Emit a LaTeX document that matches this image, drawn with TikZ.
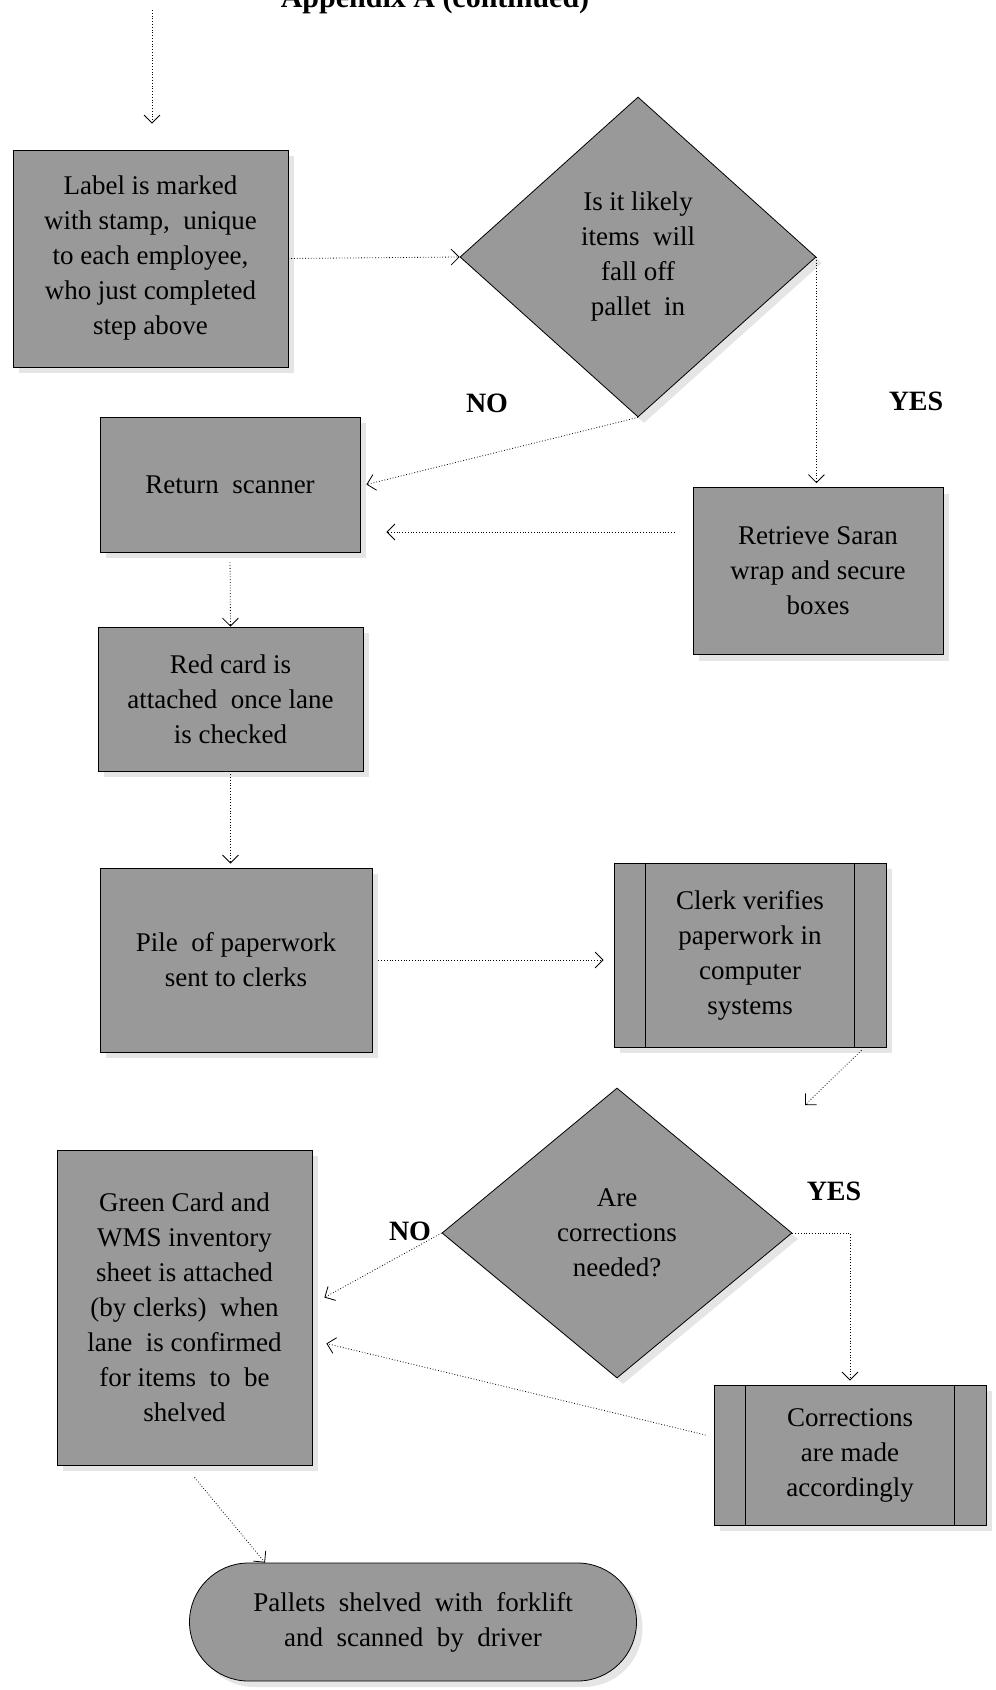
\documentclass[tikz,border=0pt]{standalone}
\usepackage{fontspec}
\setmainfont{Liberation Serif}
\usetikzlibrary{shapes.geometric,shapes.misc,shadows,arrows.meta}

\definecolor{boxgray}{gray}{0.6}
\definecolor{shadowgray}{gray}{0.8}

\tikzset{
  proc/.style={draw, thin, fill=boxgray, align=center, inner sep=2pt,
    font=\fontsize{13.5}{17.5}\selectfont,
    drop shadow={shadow xshift=3pt, shadow yshift=-3pt, fill=shadowgray}},
  decision/.style={proc, diamond, inner sep=0pt},
  term/.style={proc, rounded rectangle},
  lbl/.style={font=\fontsize{14}{16}\selectfont\bfseries},
  flow/.style={densely dotted, thin, -{Straight Barb[length=4pt,width=8pt]}}
}

\begin{document}
\begin{tikzpicture}[x=0.5pt, y=-0.5pt]
\useasboundingbox (0,0) rectangle (995,1690);

\node[font=\fontsize{15}{17}\selectfont\bfseries, anchor=base] (ttl) at (435,8) {Appendix A (continued)};
\coordinate (start) at (152,10);

\node[proc, minimum width=137.5pt, minimum height=108.5pt] (stamp) at (150.5,258.5)
  {Label is marked\\with stamp,\ \ unique\\to each employee,\\who just completed\\step above};
\node[decision, minimum width=178pt, minimum height=160pt] (fall) at (638,257)
  {Is it likely\\items\ \ will\\fall off\\pallet\ \ in};
\node[lbl] (no1) at (487,403) {NO};
\node[lbl] (yes1) at (916,401) {YES};
\node[proc, minimum width=125pt, minimum height=83.5pt] (saran) at (818,571)
  {Retrieve Saran\\wrap and secure\\boxes};
\node[proc, minimum width=130pt, minimum height=67.5pt] (scan) at (230,484.5)
  {Return\ \ scanner};
\node[proc, minimum width=132.5pt, minimum height=72pt] (red) at (230.5,699)
  {Red card is\\attached\ \ once lane\\is checked};
\node[proc, minimum width=136pt, minimum height=92pt] (pile) at (236,960)
  {Pile\ \ of paperwork\\sent to clerks};
\node[proc, minimum width=136pt, minimum height=92pt] (clerk) at (750,955)
  {Clerk verifies\\paperwork in\\computer\\systems};
\node[decision, minimum width=175pt, minimum height=145pt] (corr) at (617,1233)
  {Are\\corrections\\needed?};
\node[lbl] (no2) at (410,1231) {NO};
\node[lbl] (yes2) at (834,1191) {YES};
\node[proc, minimum width=127.5pt, minimum height=157.5pt] (green) at (184.5,1307.5)
  {Green Card and\\WMS inventory\\sheet is attached\\(by clerks)\ \ when\\lane\ \ is confirmed\\for items\ \ to\ \ be\\shelved};
\node[proc, minimum width=136pt, minimum height=70pt] (fix) at (850,1455)
  {Corrections\\are made\\accordingly};
\node[term, minimum width=227.5pt, minimum height=59pt] (shelf) at (413,1622)
  {Pallets\ \ shelved\ \ with\ \ forklift\\and\ \ scanned\ \ by\ \ driver};
\coordinate (checkend) at (805,1105);

% side bars of the predefined process boxes
\foreach \n in {clerk,fix} {
  \draw ([xshift=16pt]\n.north west) -- ([xshift=16pt]\n.south west);
  \draw ([xshift=-16pt]\n.north east) -- ([xshift=-16pt]\n.south east);
}

\draw[flow, shorten >=13pt] (start) -- (start |- stamp.north);
\draw[flow] (stamp.east) -- (fall.west);
\draw[flow, shorten >=2pt] (fall.east) -- (fall.east |- saran.north);
\draw[flow] (fall.south) -- ([xshift=3pt]scan.east);
\coordinate (sarout) at ([xshift=-9pt,yshift=19.5pt]saran.west);
\draw[flow] (sarout) -- ([xshift=13pt]scan.east |- sarout);
\draw[flow, shorten <=5pt] (scan.south) -- (red.north);
\draw[flow, shorten >=2pt] (red.south) -- (red.south |- pile.north);
\draw[flow, shorten <=3pt, shorten >=5pt] (pile.east) -- (pile.east -| clerk.west);
\draw[flow, shorten <=2pt] ([xshift=-11pt]clerk.south east) -- (checkend);
\draw[flow] (corr.west) -- ([xshift=6pt,yshift=5pt]green.east);
\draw[flow, shorten >=2pt] (corr.east) -| (fix.north);
\draw[flow] ([xshift=-4pt,yshift=10pt]fix.west) -- ([xshift=7pt,yshift=-18pt]green.east);
\draw[flow] ([xshift=5pt,yshift=-6pt]green.south) -- ([xshift=-74pt]shelf.north);
\end{tikzpicture}
\end{document}
